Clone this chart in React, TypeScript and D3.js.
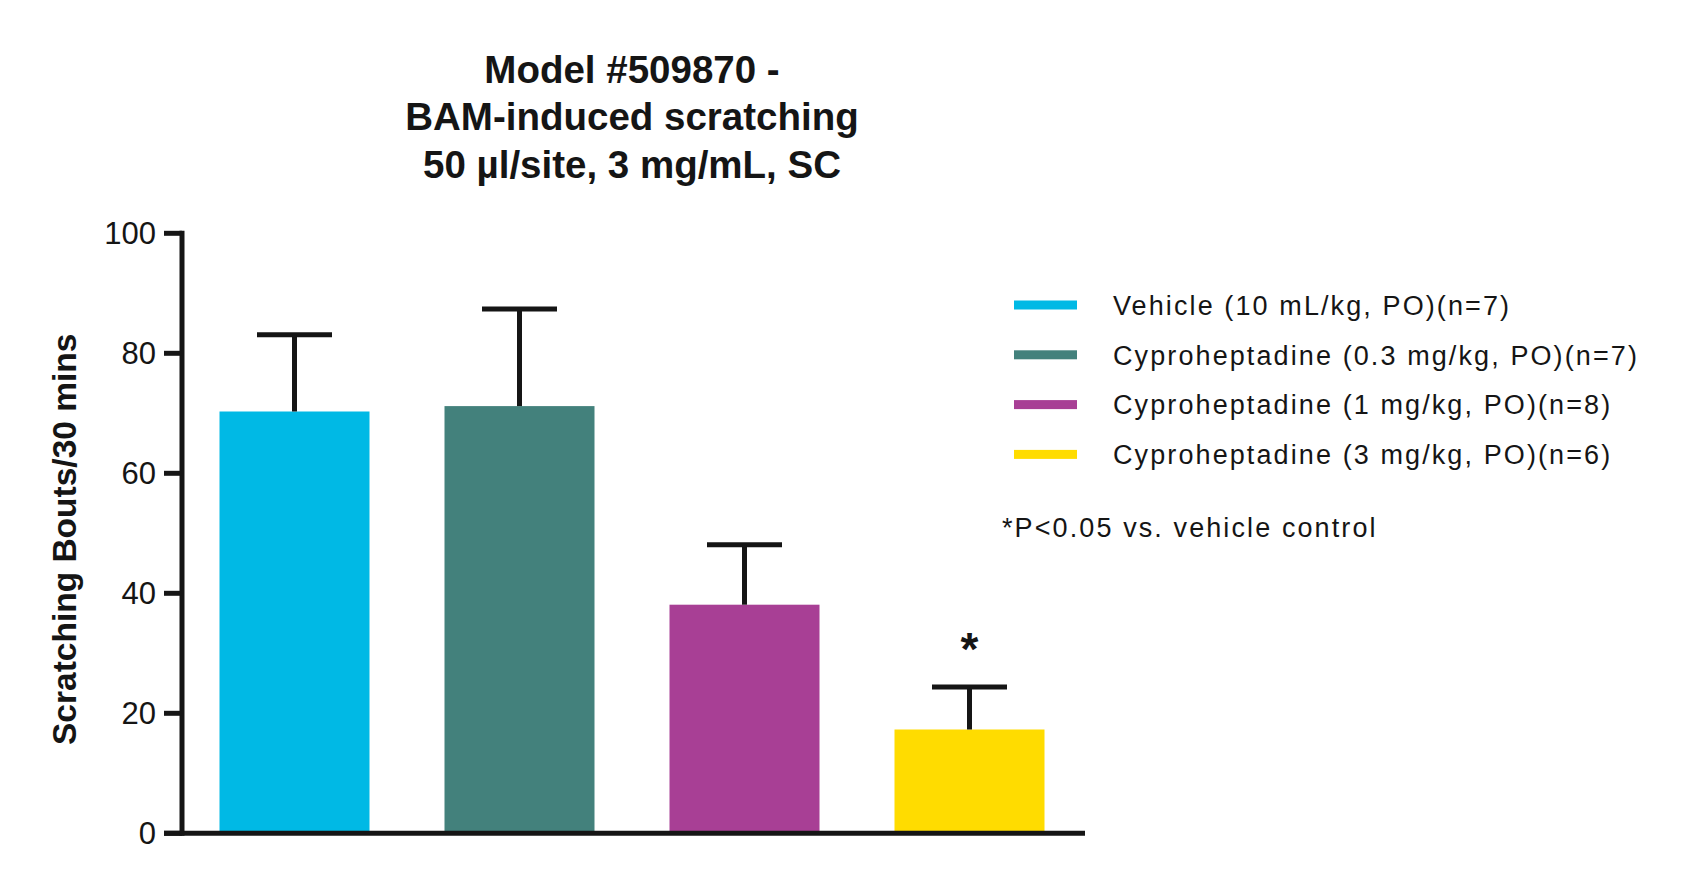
import React from 'react';
import * as d3 from 'd3';

const groups = [
    'Vehicle (10 mL/kg, PO)(n=7)',
    'Cyproheptadine (0.3 mg/kg, PO)(n=7)',
    'Cyproheptadine (1 mg/kg, PO)(n=8)',
    'Cyproheptadine (3 mg/kg, PO)(n=6)',
];
const means = [70.3, 71.2, 38.1, 17.3];
const sems = [12.8, 16.2, 10.0, 7.1];
const significant = [false, false, false, true];
const colors = ['#00B9E5', '#43817C', '#A83F95', '#FFDC00'];
const yTicks = [0, 20, 40, 60, 80, 100];
const titleLines = ['Model #509870 -', 'BAM-induced scratching', '50 µl/site, 3 mg/mL, SC'];
const yLabel = 'Scratching Bouts/30 mins';
const footnote = '*P<0.05 vs. vehicle control';

const W = 1681;
const H = 873;
const ink = '#151515';
const font = '"Liberation Sans", Arial, Helvetica, sans-serif';

const App = () => {
    const plot = { left: 182, right: 1082, top: 233.3, bottom: 833.3 };

    const x = d3.scaleBand<number>()
        .domain(d3.range(groups.length))
        .range([plot.left, plot.right])
        .paddingInner(1 / 3)
        .paddingOuter(1 / 6);

    const y = d3.scaleLinear().domain([0, 100]).range([plot.bottom, plot.top]);

    const bw = x.bandwidth();
    const midX = (plot.left + plot.right) / 2;

    return (
        <svg width={W} height={H} style={{ position: 'absolute', left: 0, top: 0, background: '#fff' }}
            fontFamily={font}>
            {/* title */}
            <g fill={ink} fontWeight="bold" fontSize={38.5} textAnchor="middle">
                {titleLines.map((t, i) => (
                    <text key={i} x={midX} y={82.5 + i * 47.8}>{t}</text>
                ))}
            </g>

            {/* bars */}
            {means.map((m, i) => (
                <rect key={i} x={x(i)} y={y(m)} width={bw} height={y(0) - y(m)} fill={colors[i]} />
            ))}

            {/* error bars */}
            <g stroke={ink} strokeWidth={5} fill="none">
                {means.map((m, i) => {
                    const cx = (x(i) as number) + bw / 2;
                    const top = y(m + sems[i]);
                    return (
                        <g key={i}>
                            <line x1={cx} x2={cx} y1={y(m)} y2={top} />
                            <line x1={cx - bw / 4} x2={cx + bw / 4} y1={top} y2={top} />
                        </g>
                    );
                })}
            </g>

            {/* significance */}
            {means.map((m, i) => significant[i] ? (
                <text key={i} x={(x(i) as number) + bw / 2} y={y(m + sems[i]) - 22}
                    textAnchor="middle" fontSize={46} fontWeight="bold" fill={ink}>*</text>
            ) : null)}

            {/* axes */}
            <g stroke={ink} strokeWidth={5}>
                <line x1={plot.left} x2={plot.left} y1={plot.top - 2.5} y2={plot.bottom + 2.5} />
                {yTicks.map((t) => (
                    <line key={t} x1={164} x2={plot.left} y1={y(t)} y2={y(t)} />
                ))}
                <line x1={164} x2={1085} y1={plot.bottom} y2={plot.bottom} />
            </g>
            <g fill={ink} fontSize={31} textAnchor="end">
                {yTicks.map((t) => (
                    <text key={t} x={156} y={y(t)} dy="0.36em">{t}</text>
                ))}
            </g>
            <text transform={`translate(64,${(plot.top + plot.bottom) / 2 + 6}) rotate(-90)`}
                textAnchor="middle" dy="0.36em" fontSize={33.5} fontWeight="bold" fill={ink}>{yLabel}</text>

            {/* legend */}
            {groups.map((g, i) => (
                <g key={i} transform={`translate(1014,${305 + i * 49.8})`}>
                    <rect x={0} y={-4.5} width={63} height={9} fill={colors[i]} />
                    <text x={99} dy="0.36em" fontSize={27} letterSpacing={2.1} fill={ink}>{g}</text>
                </g>
            ))}
            <text x={1002} y={527} dy="0.36em" fontSize={27} letterSpacing={2.1} fill={ink}>{footnote}</text>
        </svg>
    );
};

export default App;
